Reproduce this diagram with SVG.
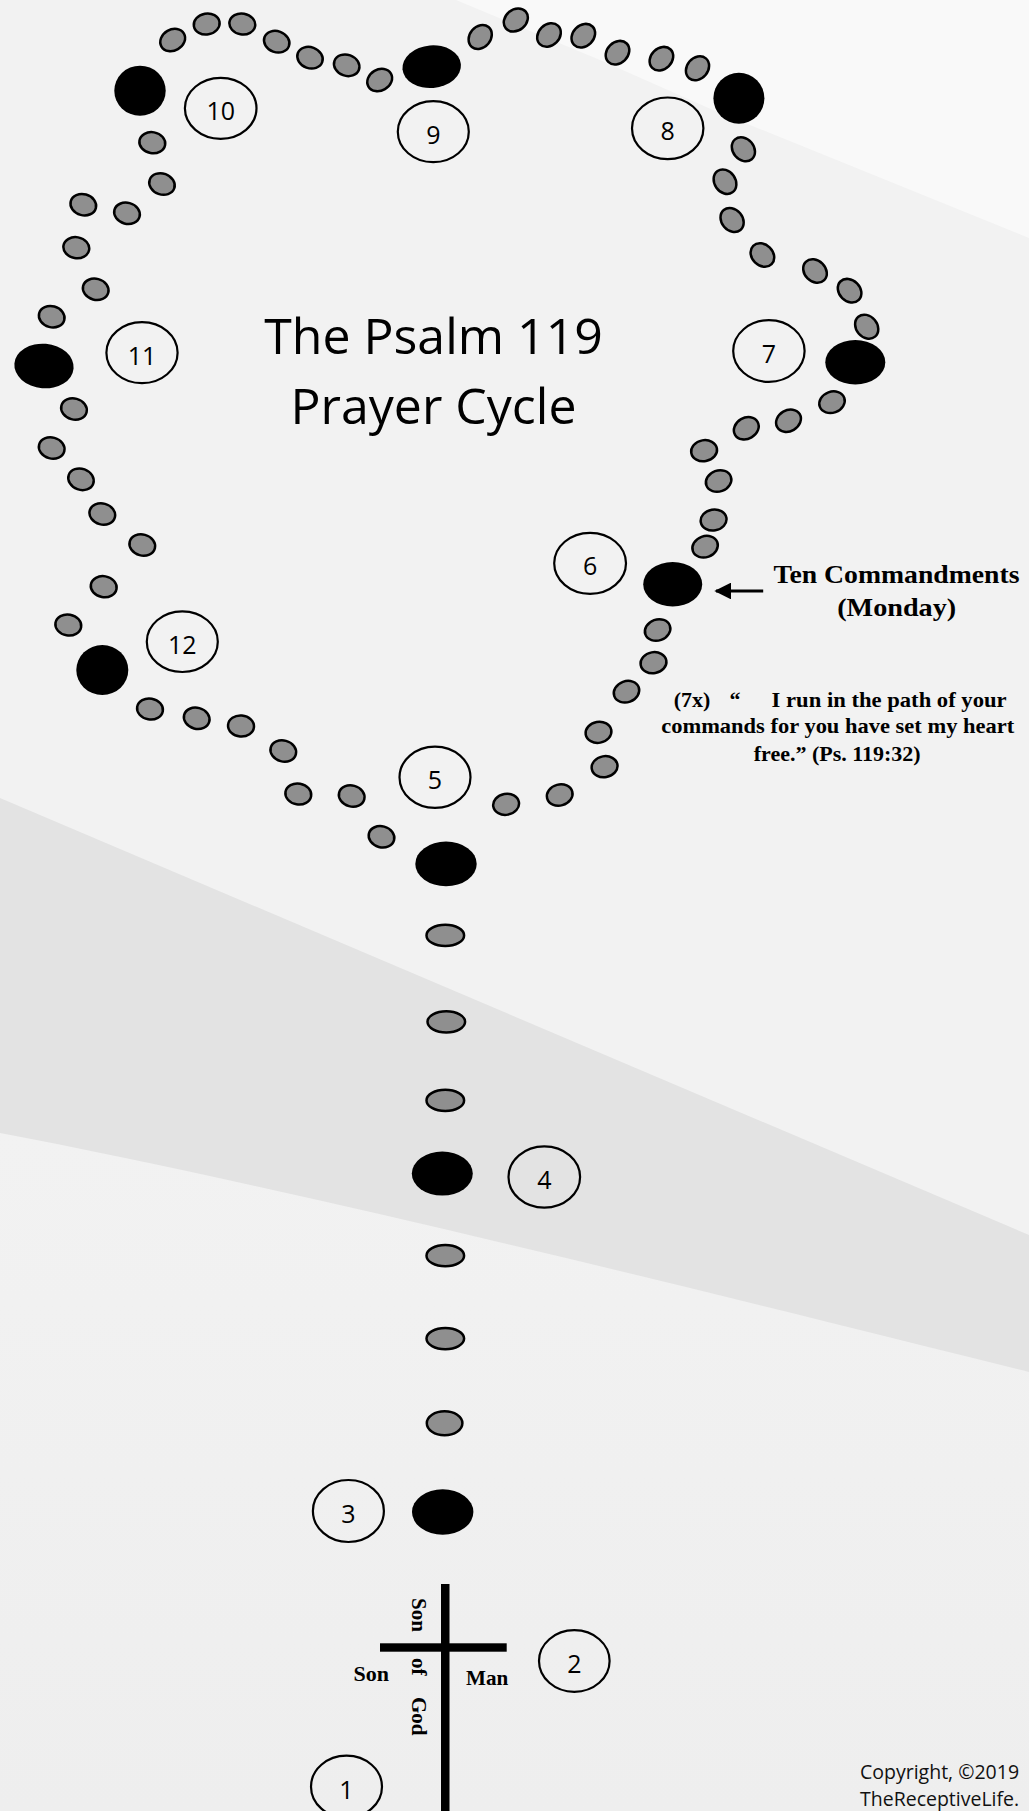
<svg xmlns="http://www.w3.org/2000/svg" xmlns:xlink="http://www.w3.org/1999/xlink" width="1029" height="1811" viewBox="0 0 1029 1811">
<defs>
<style>
.gb{fill:#8f8f8f;stroke:#000;stroke-width:2.5}
.bb{fill:#000}
.lbl{fill:none;stroke:#000;stroke-width:2.2}
.num{font-family:"Open Sans","Noto Sans",sans-serif;font-size:25px;fill:#000;text-anchor:middle}
.title{font-family:"Open Sans","Noto Sans",sans-serif;font-size:50px;fill:#000;text-anchor:middle}
.serif{font-family:"Liberation Serif","DejaVu Serif",serif;font-weight:bold;fill:#000}
.copy{font-family:"Open Sans","Noto Sans",sans-serif;font-size:19.5px;fill:#111}
</style>
<ellipse id="g" class="gb" rx="13" ry="10.5"/>
<ellipse id="gs" class="gb" rx="18.8" ry="10.6"/>
<linearGradient id="lowbg" x1="0" y1="1133" x2="0" y2="1811" gradientUnits="userSpaceOnUse">
<stop offset="0" stop-color="#f2f2f2"/><stop offset="1" stop-color="#eeeeee"/>
</linearGradient>
<marker id="arr" viewBox="0 0 10 10" refX="9" refY="5" markerWidth="6" markerHeight="6" orient="auto" markerUnits="strokeWidth">
<path d="M0,0 L10,5 L0,10 Z" fill="#000"/>
</marker>
</defs>

<g id="background">
<rect x="0" y="0" width="1029" height="1811" fill="#f2f2f2"/>
<polygon points="456,0 600,60 713,110 1029,238 1029,0" fill="#f9f9f9"/>
<path d="M0,1133 C300,1190 700,1290 1029,1372 L1029,1811 L0,1811 Z" fill="url(#lowbg)"/>
<path d="M0,798 L1029,1235 L1029,1372 C700,1290 300,1190 0,1133 Z" fill="#e3e3e3"/>
</g>

<g id="title">
<text class="title" x="433.5" y="354">The Psalm 119</text>
<text class="title" x="433.5" y="424">Prayer Cycle</text>
</g>

<g id="ring-beads">
<use xlink:href="#g" transform="translate(381.5,836.8) rotate(15)"/>
<use xlink:href="#g" transform="translate(351.7,796) rotate(15)"/>
<use xlink:href="#g" transform="translate(298.3,794) rotate(10)"/>
<use xlink:href="#g" transform="translate(283.3,751) rotate(15)"/>
<use xlink:href="#g" transform="translate(241,726) rotate(5)"/>
<use xlink:href="#g" transform="translate(196.7,718.3) rotate(15)"/>
<use xlink:href="#g" transform="translate(150,709) rotate(10)"/>
<ellipse id="bead-12" class="bb" cx="102.3" cy="670" rx="26" ry="25"/>
<use xlink:href="#g" transform="translate(68.3,625) rotate(10)"/>
<use xlink:href="#g" transform="translate(103.7,586.7) rotate(10)"/>
<use xlink:href="#g" transform="translate(142.3,545) rotate(15)"/>
<use xlink:href="#g" transform="translate(102.3,514) rotate(15)"/>
<use xlink:href="#g" transform="translate(81,479.3) rotate(20)"/>
<use xlink:href="#g" transform="translate(51.7,448) rotate(15)"/>
<use xlink:href="#g" transform="translate(74,409) rotate(15)"/>
<ellipse id="bead-11" class="bb" cx="44" cy="366" rx="29.7" ry="22.3" transform="rotate(5 44 366)"/>
<use xlink:href="#g" transform="translate(51.7,316.7) rotate(15)"/>
<use xlink:href="#g" transform="translate(95.7,289.3) rotate(15)"/>
<use xlink:href="#g" transform="translate(76.3,247.7) rotate(10)"/>
<use xlink:href="#g" transform="translate(127,213.3) rotate(15)"/>
<use xlink:href="#g" transform="translate(83.3,204.7) rotate(15)"/>
<use xlink:href="#g" transform="translate(162,184) rotate(20)"/>
<use xlink:href="#g" transform="translate(152.3,142.7) rotate(10)"/>
<ellipse id="bead-10" class="bb" cx="140" cy="90.7" rx="25.7" ry="25"/>
<use xlink:href="#g" transform="translate(172.7,40) rotate(-30)"/>
<use xlink:href="#g" transform="translate(206.7,24) rotate(-10)"/>
<use xlink:href="#g" transform="translate(242.3,24) rotate(10)"/>
<use xlink:href="#g" transform="translate(276.7,41.7) rotate(20)"/>
<use xlink:href="#g" transform="translate(310,57.7) rotate(20)"/>
<use xlink:href="#g" transform="translate(346.7,65.3) rotate(20)"/>
<use xlink:href="#g" transform="translate(379.7,80) rotate(-30)"/>
<ellipse id="bead-9" class="bb" cx="431.7" cy="66.7" rx="29.3" ry="21.3" transform="rotate(-5 431.7 66.7)"/>
<use xlink:href="#g" transform="translate(480.2,37) rotate(-50)"/>
<use xlink:href="#g" transform="translate(515.8,20) rotate(-40)"/>
<use xlink:href="#g" transform="translate(549,35) rotate(-45)"/>
<use xlink:href="#g" transform="translate(583.3,35.7) rotate(-45)"/>
<use xlink:href="#g" transform="translate(617.5,52.7) rotate(-45)"/>
<use xlink:href="#g" transform="translate(661.4,58.7) rotate(-45)"/>
<use xlink:href="#g" transform="translate(697.5,68.3) rotate(-50)"/>
<ellipse id="bead-8" class="bb" cx="738.9" cy="98.3" rx="25.5" ry="25.5"/>
<use xlink:href="#g" transform="translate(743.4,149.3) rotate(50)"/>
<use xlink:href="#g" transform="translate(725,181.7) rotate(55)"/>
<use xlink:href="#g" transform="translate(732.1,220) rotate(50)"/>
<use xlink:href="#g" transform="translate(762.4,255) rotate(45)"/>
<use xlink:href="#g" transform="translate(815,271) rotate(45)"/>
<use xlink:href="#g" transform="translate(849.6,290.7) rotate(45)"/>
<use xlink:href="#g" transform="translate(866.7,326.7) rotate(50)"/>
<ellipse id="bead-7" class="bb" cx="855.3" cy="362.3" rx="30" ry="22.2"/>
<use xlink:href="#g" transform="translate(832,402.2) rotate(-20)"/>
<use xlink:href="#g" transform="translate(788.5,420.7) rotate(-30)"/>
<use xlink:href="#g" transform="translate(746.3,428.3) rotate(-30)"/>
<use xlink:href="#g" transform="translate(704.1,450.7) rotate(-10)"/>
<use xlink:href="#g" transform="translate(718.6,481) rotate(-20)"/>
<use xlink:href="#g" transform="translate(713.6,520) rotate(-10)"/>
<use xlink:href="#g" transform="translate(705.1,546.7) rotate(-20)"/>
<ellipse id="bead-6" class="bb" cx="672.7" cy="584.3" rx="29.5" ry="22.2"/>
<use xlink:href="#g" transform="translate(657.6,630) rotate(-20)"/>
<use xlink:href="#g" transform="translate(653.5,662.7) rotate(-10)"/>
<use xlink:href="#g" transform="translate(626.5,691.7) rotate(-20)"/>
<use xlink:href="#g" transform="translate(598.5,732.3) rotate(-10)"/>
<use xlink:href="#g" transform="translate(604.6,766.7) rotate(-10)"/>
<use xlink:href="#g" transform="translate(559.7,795) rotate(-15)"/>
<use xlink:href="#g" transform="translate(506.1,804.3) rotate(-10)"/>
</g>

<g id="stem-beads">
<ellipse id="bead-5" class="bb" cx="446" cy="863.9" rx="30.7" ry="22.3"/>
<use xlink:href="#gs" transform="translate(445.3,935.4)"/>
<use xlink:href="#gs" transform="translate(446.3,1021.8)"/>
<use xlink:href="#gs" transform="translate(445.3,1100.4)"/>
<ellipse id="bead-4" class="bb" cx="442.3" cy="1173.6" rx="30.5" ry="22"/>
<use xlink:href="#gs" transform="translate(445.3,1255.7)"/>
<use xlink:href="#gs" transform="translate(445.3,1338.6)"/>
<ellipse class="gb" cx="444.6" cy="1423.3" rx="17.8" ry="12"/>
<ellipse id="bead-3" class="bb" cx="442.7" cy="1512" rx="30.7" ry="22.7"/>
</g>

<g id="cross">
<rect x="441" y="1584" width="8.5" height="227" fill="#000"/>
<rect x="380" y="1643.3" width="126.7" height="8.4" fill="#000"/>
<text class="serif" font-size="21" x="353.5" y="1681" textLength="35.5" lengthAdjust="spacingAndGlyphs">Son</text>
<text class="serif" font-size="21" x="466" y="1685" textLength="42.3" lengthAdjust="spacingAndGlyphs">Man</text>
<text class="serif" font-size="21" transform="rotate(90)" y="-412"><tspan x="1598">Son</tspan><tspan x="1658">of</tspan><tspan x="1697">God</tspan></text>
</g>

<g id="label-1"><ellipse class="lbl" cx="346.5" cy="1786.7" rx="35.5" ry="31"/><text class="num" x="346.5" y="1798.7">1</text></g>
<g id="label-2"><ellipse class="lbl" cx="574.3" cy="1661" rx="35.3" ry="30.8"/><text class="num" x="574.3" y="1673">2</text></g>
<g id="label-3"><ellipse class="lbl" cx="348.4" cy="1511" rx="35.5" ry="31"/><text class="num" x="348.4" y="1523">3</text></g>
<g id="label-4"><ellipse class="lbl" cx="544.3" cy="1177" rx="35.8" ry="30.6"/><text class="num" x="544.3" y="1189">4</text></g>
<g id="label-5"><ellipse class="lbl" cx="435" cy="777.3" rx="35.5" ry="30.6"/><text class="num" x="435" y="789.3">5</text></g>
<g id="label-6"><ellipse class="lbl" cx="590.1" cy="563.3" rx="35.9" ry="30.5"/><text class="num" x="590.1" y="575.3">6</text></g>
<g id="label-7"><ellipse class="lbl" cx="768.9" cy="351" rx="35.7" ry="30.8"/><text class="num" x="768.9" y="363">7</text></g>
<g id="label-8"><ellipse class="lbl" cx="667.7" cy="128.3" rx="35.7" ry="30.8"/><text class="num" x="667.7" y="140.3">8</text></g>
<g id="label-9"><ellipse class="lbl" cx="433.3" cy="131.7" rx="35.5" ry="30.5"/><text class="num" x="433.3" y="143.7">9</text></g>
<g id="label-10"><ellipse class="lbl" cx="220.7" cy="108.3" rx="35.8" ry="30.5"/><text class="num" x="220.7" y="120.3">10</text></g>
<g id="label-11"><ellipse class="lbl" cx="142" cy="352.7" rx="35.6" ry="30.5"/><text class="num" x="142" y="364.7">11</text></g>
<g id="label-12"><ellipse class="lbl" cx="182.3" cy="641.7" rx="35.5" ry="30.3"/><text class="num" x="182.3" y="653.7">12</text></g>

<g id="connectors">
<line x1="763.2" y1="591" x2="716" y2="591" stroke="#000" stroke-width="2.8" marker-end="url(#arr)"/>
</g>

<g id="callout-ten-commandments">
<text class="serif" font-size="26" x="896.5" y="583.3" text-anchor="middle" textLength="246" lengthAdjust="spacingAndGlyphs">Ten Commandments</text>
<text class="serif" font-size="26" x="896.7" y="616" text-anchor="middle" textLength="119" lengthAdjust="spacingAndGlyphs">(Monday)</text>
</g>

<g id="callout-verse">
<text class="serif" font-size="22" y="706.7"><tspan x="673.7">(7x)</tspan><tspan x="729.4">“</tspan><tspan x="771.6" textLength="235" lengthAdjust="spacingAndGlyphs">I run in the path of your</tspan></text>
<text class="serif" font-size="22" x="837.7" y="732.7" text-anchor="middle" textLength="353" lengthAdjust="spacingAndGlyphs">commands for you have set my heart</text>
<text class="serif" font-size="22" x="753.7" y="761" textLength="167" lengthAdjust="spacingAndGlyphs">free.” (Ps. 119:32)</text>
</g>

<g id="copyright">
<text class="copy" x="860" y="1779">Copyright, ©2019</text>
<text class="copy" x="860" y="1805.5">TheReceptiveLife.</text>
</g>
</svg>
